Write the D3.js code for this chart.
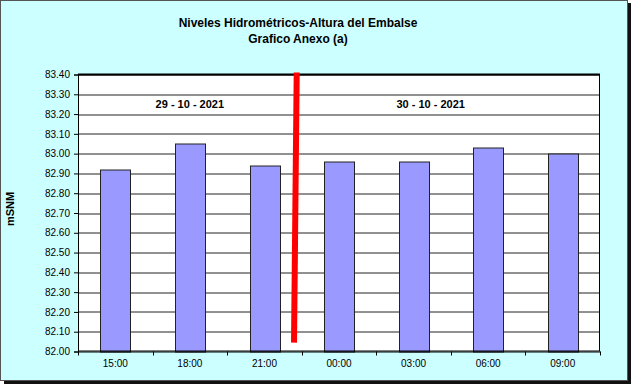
<!DOCTYPE html>
<html>
<head>
<meta charset="utf-8">
<script src="https://cdn.jsdelivr.net/npm/d3@7"></script>
<style>
  body { margin: 0; background: #fff; }
  svg text { font-family: "Liberation Sans", Arial, sans-serif; }
</style>
</head>
<body>
<div id="chart"></div>
<script>
// data
var horas = ["15:00", "18:00", "21:00", "00:00", "03:00", "06:00", "09:00"];
var alturas = [82.92, 83.05, 82.94, 82.96, 82.96, 83.03, 83.00];
var yTicks = [82.0, 82.1, 82.2, 82.3, 82.4, 82.5, 82.6, 82.7, 82.8, 82.9, 83.0, 83.1, 83.2, 83.3, 83.4];
var fechas = ["29 - 10 - 2021", "30 - 10 - 2021"];

var W = 631, H = 384;
var margin = {top: 74.5, right: 31, bottom: 32.5, left: 78};
var width = 600 - margin.left;
var height = 351.5 - margin.top;

var svg = d3.select("#chart")
  .append("svg")
    .attr("width", W)
    .attr("height", H);

// frame + shadow
svg.append("rect")
  .attr("x", 4).attr("y", 3)
  .attr("width", 627).attr("height", 381)
  .attr("fill", "#111");
svg.append("rect")
  .attr("x", 0.5).attr("y", 0.5)
  .attr("width", 627).attr("height", 380)
  .attr("fill", "#ccffff")
  .attr("stroke", "#555");

// titles
svg.append("text")
  .attr("x", 298).attr("y", 27)
  .attr("text-anchor", "middle")
  .attr("font-size", "12px").attr("font-weight", "bold")
  .text("Niveles Hidrométricos-Altura del Embalse");
svg.append("text")
  .attr("x", 298).attr("y", 43)
  .attr("text-anchor", "middle")
  .attr("font-size", "12px").attr("font-weight", "bold")
  .text("Grafico Anexo (a)");

svg.append("text")
  .attr("transform", "translate(14,209) rotate(-90)")
  .attr("text-anchor", "middle")
  .attr("font-size", "11px").attr("font-weight", "bold")
  .text("mSNM");

var g = svg.append("g")
  .attr("transform", "translate(" + margin.left + "," + margin.top + ")");

var x = d3.scaleBand()
  .domain(horas)
  .range([0, width])
  .paddingInner(0).paddingOuter(0);

var y = d3.scaleLinear()
  .domain([82.0, 83.4])
  .range([height, 0]);

// plot area
g.append("rect")
  .attr("width", width).attr("height", height)
  .attr("fill", "#fff");

// gridlines
g.selectAll(".grid")
  .data(yTicks.slice(1, -1))
  .enter().append("line")
    .attr("class", "grid")
    .attr("x1", 0).attr("x2", width)
    .attr("y1", function(d) { return Math.round(y(d)) + 0.5; })
    .attr("y2", function(d) { return Math.round(y(d)) + 0.5; })
    .attr("stroke", "#222")
    .attr("stroke-width", 1);

// bars
var bw = x.bandwidth() * 0.4;
g.selectAll(".bar")
  .data(alturas)
  .enter().append("rect")
    .attr("class", "bar")
    .attr("x", function(d, i) { return Math.round(x(horas[i]) + (x.bandwidth() - bw) / 2) + 0.5; })
    .attr("y", function(d) { return Math.round(y(d)) + 0.5; })
    .attr("width", Math.round(bw))
    .attr("height", function(d) { return Math.round(height - y(d)); })
    .attr("fill", "#9999ff")
    .attr("stroke", "#222")
    .attr("stroke-width", 1);

// plot border
g.append("rect")
  .attr("x", 0.5).attr("y", 0.5)
  .attr("width", width - 1).attr("height", height - 1)
  .attr("fill", "none")
  .attr("stroke", "#000")
  .attr("stroke-width", 1);
g.append("line")
  .attr("x1", 0).attr("x2", width)
  .attr("y1", 0).attr("y2", 0)
  .attr("stroke", "#000").attr("stroke-width", 2);

// red separator between days
var sepX = x("00:00");
g.append("line")
  .attr("x1", sepX - 5).attr("y1", y(83.41))
  .attr("x2", sepX - 7.7).attr("y2", y(82.045))
  .attr("stroke", "#ff0000")
  .attr("stroke-width", 6);

// date labels
g.append("text")
  .attr("x", x("18:00") + x.bandwidth() / 2)
  .attr("y", y(83.25))
  .attr("dy", "0.35em")
  .attr("text-anchor", "middle")
  .attr("font-size", "11px").attr("font-weight", "bold")
  .text(fechas[0]);
g.append("text")
  .attr("x", x("03:00") + x.bandwidth() * 0.73)
  .attr("y", y(83.25))
  .attr("dy", "0.35em")
  .attr("text-anchor", "middle")
  .attr("font-size", "11px").attr("font-weight", "bold")
  .text(fechas[1]);

// y axis
var yAxis = g.append("g")
  .call(d3.axisLeft(y).tickValues(yTicks).tickFormat(d3.format(".2f")).tickSize(4).tickPadding(4));
yAxis.select(".domain").attr("stroke", "#000");
yAxis.selectAll("text").attr("font-size", "10px").attr("fill", "#000")
  .style("font-family", "'Liberation Sans', Arial, sans-serif");

// x axis: labels at centres, tick marks at band edges
var xAxis = g.append("g")
  .attr("transform", "translate(0," + height + ")")
  .call(d3.axisBottom(x).tickSize(0).tickPadding(8));
xAxis.select(".domain").attr("stroke", "#000");
xAxis.selectAll("text").attr("font-size", "10px").attr("fill", "#000")
  .style("font-family", "'Liberation Sans', Arial, sans-serif");

var edges = horas.map(function(h) { return x(h); }).concat([width]);
xAxis.selectAll(".edge")
  .data(edges)
  .enter().append("line")
    .attr("class", "edge")
    .attr("x1", function(d) { return Math.round(d) + 0.5; })
    .attr("x2", function(d) { return Math.round(d) + 0.5; })
    .attr("y1", 0).attr("y2", 4)
    .attr("stroke", "#000");
</script>
</body>
</html>
